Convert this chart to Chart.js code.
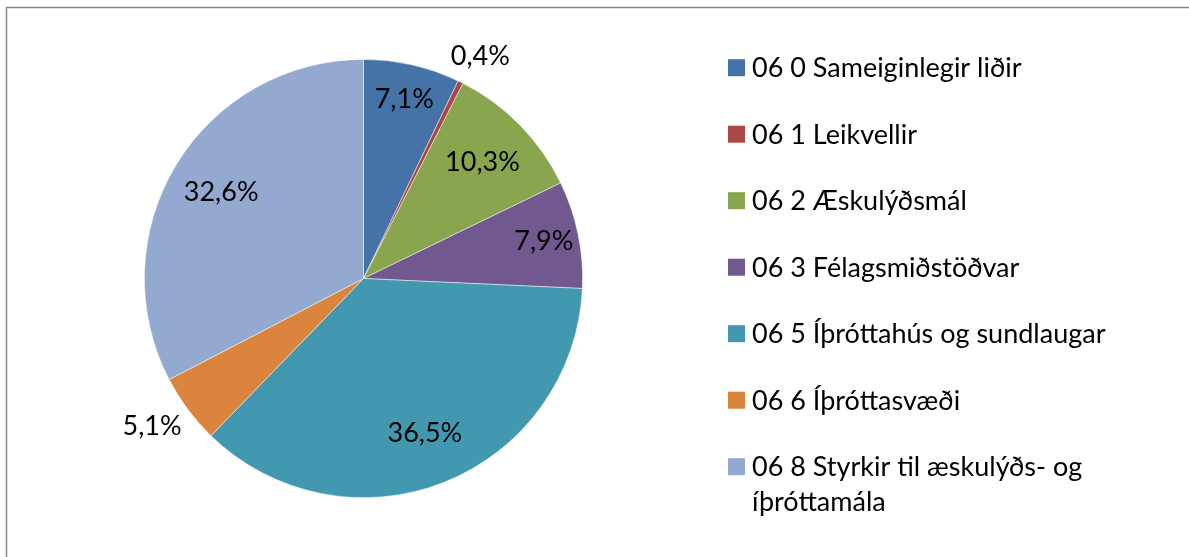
<!DOCTYPE html>
<html>
<head>
<meta charset="utf-8">
<script src="https://cdn.jsdelivr.net/npm/chart.js@4"></script>
<style>
  html, body { margin: 0; padding: 0; background: #fff; }
  #wrap { width: 1189px; height: 557px; }
</style>
</head>
<body>
<div id="wrap"><canvas id="c" width="1189" height="557"></canvas></div>
<script>
const categories = [
  "06 0 Sameiginlegir liðir",
  "06 1 Leikvellir",
  "06 2 Æskulýðsmál",
  "06 3 Félagsmiðstöðvar",
  "06 5 Íþróttahús og sundlaugar",
  "06 6 Íþróttasvæði",
  "06 8 Styrkir til æskulýðs- og íþróttamála"
];
const shares = [7.1, 0.4, 10.3, 7.9, 36.5, 5.1, 32.6];
const colors = ["#4572A7", "#AA4643", "#89A54E", "#71588F", "#4198AF", "#DB843D", "#93A9CF"];

const FONT = "Lato, 'Open Sans', sans-serif";
const FONT_PX = 27;

const frame = {
  id: 'frame',
  beforeDraw(chart) {
    const ctx = chart.ctx;
    ctx.save();
    ctx.fillStyle = '#fff';
    ctx.fillRect(0, 0, chart.width, chart.height);
    ctx.strokeStyle = '#878787';
    ctx.lineWidth = 1.5;
    ctx.beginPath();
    ctx.moveTo(6.5, chart.height);
    ctx.lineTo(6.5, 7.5);
    ctx.lineTo(chart.width, 7.5);
    ctx.stroke();
    ctx.restore();
  }
};

const sliceLabels = {
  id: 'sliceLabels',
  afterDatasetsDraw(chart) {
    const ctx = chart.ctx;
    const meta = chart.getDatasetMeta(0);
    ctx.save();
    ctx.font = FONT_PX + "px " + FONT;
    ctx.fillStyle = '#000';
    ctx.textAlign = 'center';
    ctx.textBaseline = 'middle';
    meta.data.forEach((arc, i) => {
      const v = chart.data.datasets[0].data[i];
      const txt = v.toFixed(1).replace('.', ',') + '%';
      const mid = (arc.startAngle + arc.endAngle) / 2;
      const c = Math.cos(mid), s = Math.sin(mid);
      let x, y;
      if (v < 6) {
        const w = ctx.measureText(txt).width, h = FONT_PX;
        const d = arc.outerRadius + 15;
        x = arc.x + c * d + c * w / 2;
        y = arc.y + s * d + s * h / 2;
      } else {
        const f = v > 10 ? 0.76 : 0.84;
        x = arc.x + c * arc.outerRadius * f;
        y = arc.y + s * arc.outerRadius * f;
      }
      ctx.fillText(txt, x, y);
    });
    ctx.restore();
  }
};

const sideLegend = {
  id: 'sideLegend',
  afterDraw(chart) {
    const ctx = chart.ctx;
    const labels = chart.data.labels;
    const bg = chart.data.datasets[0].backgroundColor;
    ctx.save();
    ctx.font = FONT_PX + "px " + FONT;
    ctx.textBaseline = 'middle';
    ctx.textAlign = 'left';
    const boxX = 728, boxS = 17, textX = 752, top = 67.7, step = 66.5, maxW = 400, lineH = 35;
    labels.forEach((lab, i) => {
      const cy = top + i * step;
      ctx.fillStyle = bg[i];
      ctx.fillRect(boxX, cy - boxS / 2, boxS, boxS);
      ctx.fillStyle = '#000';
      const words = lab.split(' ');
      const lines = [];
      let cur = '';
      words.forEach(w => {
        const t = cur ? cur + ' ' + w : w;
        if (ctx.measureText(t).width > maxW && cur) { lines.push(cur); cur = w; }
        else cur = t;
      });
      lines.push(cur);
      lines.forEach((ln, k) => ctx.fillText(ln, textX, cy + 1 + k * lineH));
    });
    ctx.restore();
  }
};

new Chart(document.getElementById('c'), {
  type: 'pie',
  data: {
    labels: categories,
    datasets: [{
      data: shares,
      backgroundColor: colors,
      borderColor: 'rgba(255,255,255,0.6)',
      borderWidth: 0.8
    }]
  },
  options: {
    responsive: false,
    animation: false,
    rotation: 0,
    layout: { padding: { left: 144, right: 606, top: 59, bottom: 59 } },
    plugins: {
      legend: { display: false },
      tooltip: { enabled: false }
    }
  },
  plugins: [frame, sliceLabels, sideLegend]
});
</script>
</body>
</html>
